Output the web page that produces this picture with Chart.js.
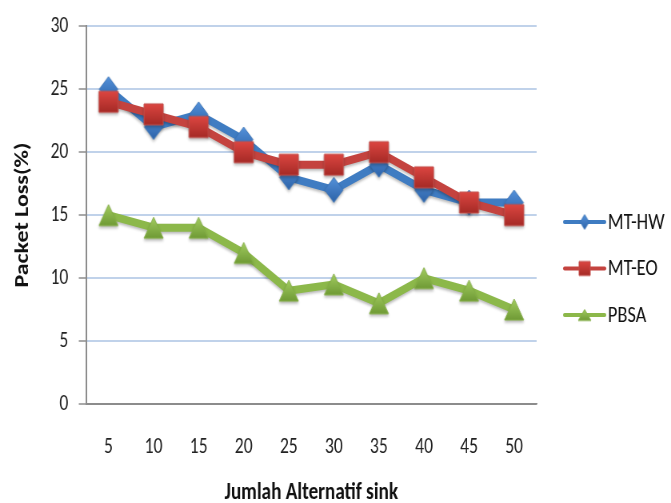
<!DOCTYPE html>
<html>
<head>
<meta charset="utf-8">
<script src="https://cdn.jsdelivr.net/npm/chart.js@4.4.0/dist/chart.umd.min.js"></script>
<style>
  html, body { margin: 0; padding: 0; background: #ffffff; }
  #wrap { width: 671px; height: 503px; overflow: hidden; position: relative; }
  /* the chart is laid out on a wider canvas and narrowed horizontally */
  #inner { width: 839px; height: 503px; transform: scaleX(0.79976); transform-origin: 0 0; }
  #chart { width: 839px; height: 503px; display: block; }
</style>
</head>
<body>
<div id="wrap"><div id="inner"><canvas id="chart" width="839" height="503"></canvas></div></div>
<script>
// Number of alternative sinks (x categories)
const sinkCounts = ['5', '10', '15', '20', '25', '30', '35', '40', '45', '50'];
// Packet loss (%) per method
const mtHw = [25, 22, 23, 21, 18, 17, 19, 17, 16, 16];
const mtEo = [24, 23, 22, 20, 19, 19, 20, 18, 16, 15];
const pbsa = [15, 14, 14, 12, 9, 9.5, 8, 10, 9, 7.5];
const seriesNames = ['MT-HW', 'MT-EO', 'PBSA'];
// Y axis range and step
const yMin = 0, yMax = 30, yStep = 5;

const FONT = 'Carlito, Calibri, "Open Sans", sans-serif';
Chart.defaults.font.family = FONT;
Chart.defaults.color = '#1a1a1a';

// Builds a shaded marker image (diamond, square or triangle)
function makeMarker(shape, w, h, topColor, bottomColor, edgeColor) {
  const pad = 2;
  const cv = document.createElement('canvas');
  cv.width = w + pad * 2;
  cv.height = h + pad * 2;
  const g = cv.getContext('2d');
  g.translate(pad, pad);
  g.beginPath();
  if (shape === 'diamond') {
    g.moveTo(w / 2, 0); g.lineTo(w, h / 2); g.lineTo(w / 2, h); g.lineTo(0, h / 2);
  } else if (shape === 'square') {
    g.rect(0, 0, w, h);
  } else {
    g.moveTo(w / 2, 0); g.lineTo(w, h); g.lineTo(0, h);
  }
  g.closePath();
  const grad = g.createLinearGradient(0, 0, 0, h);
  grad.addColorStop(0, topColor);
  grad.addColorStop(1, bottomColor);
  g.fillStyle = grad;
  g.fill();
  g.strokeStyle = edgeColor;
  g.lineWidth = 1;
  g.stroke();
  return cv;
}

const colors = {
  hw: { line: '#3f7cc2', top: '#5592da', bottom: '#2c62a8', edge: '#3a74b8' },
  eo: { line: '#c4433f', top: '#dc4641', bottom: '#a52a26', edge: '#c4504c' },
  pb: { line: '#8cb84a', top: '#a2cc60', bottom: '#6f9a35', edge: '#86b048' }
};

const markers = [
  makeMarker('diamond', 23, 25, colors.hw.top, colors.hw.bottom, colors.hw.edge),
  makeMarker('square', 24, 21, colors.eo.top, colors.eo.bottom, colors.eo.edge),
  makeMarker('triangle', 24, 21, colors.pb.top, colors.pb.bottom, colors.pb.edge)
];
const legendMarkers = [
  makeMarker('diamond', 11, 15, colors.hw.top, colors.hw.bottom, colors.hw.edge),
  makeMarker('square', 14, 14, colors.eo.top, colors.eo.bottom, colors.eo.edge),
  makeMarker('triangle', 16, 11, colors.pb.top, colors.pb.bottom, colors.pb.edge)
];

// Soft drop shadow under lines and markers
const shadowPlugin = {
  id: 'seriesShadow',
  beforeDatasetsDraw(chart) {
    const c = chart.ctx;
    c.save();
    c.shadowColor = 'rgba(0,0,0,0.28)';
    c.shadowBlur = 3;
    c.shadowOffsetY = 2;
  },
  afterDatasetsDraw(chart) {
    chart.ctx.restore();
  }
};

// Legend on the right: line sample with marker, then the series name
const sideLegend = {
  id: 'sideLegend',
  afterDraw(chart) {
    const c = chart.ctx;
    const x0 = chart.chartArea.right + 35;
    const lineLen = 50;
    const firstY = 222, gap = 46.5;
    c.save();
    chart.data.datasets.forEach((ds, i) => {
      const y = firstY + i * gap;
      c.strokeStyle = ds.borderColor;
      c.lineWidth = 4;
      c.lineCap = 'round';
      c.beginPath();
      c.moveTo(x0, y);
      c.lineTo(x0 + lineLen, y);
      c.stroke();
      const m = legendMarkers[i];
      c.drawImage(m, x0 + lineLen / 2 - m.width / 2, y - m.height / 2);
      c.fillStyle = '#111';
      c.font = '23px ' + FONT;
      c.textAlign = 'left';
      c.textBaseline = 'middle';
      c.fillText(ds.label, x0 + lineLen + 4, y + 1);
    });
    c.restore();
  }
};

const gridBlue = '#c0d2ea';
const axisGrey = '#8c8c8c';

new Chart(document.getElementById('chart'), {
  type: 'line',
  data: {
    labels: sinkCounts,
    datasets: [
      { label: seriesNames[0], data: mtHw, borderColor: colors.hw.line, backgroundColor: colors.hw.line,
        borderWidth: 8, pointStyle: markers[0], order: 2 },
      { label: seriesNames[1], data: mtEo, borderColor: colors.eo.line, backgroundColor: colors.eo.line,
        borderWidth: 8, pointStyle: markers[1], order: 1 },
      { label: seriesNames[2], data: pbsa, borderColor: colors.pb.line, backgroundColor: colors.pb.line,
        borderWidth: 8, pointStyle: markers[2], order: 0 }
    ]
  },
  options: {
    responsive: false,
    animation: false,
    layout: { padding: { left: 0, right: 168, top: 22, bottom: 0 } },
    elements: { line: { tension: 0, borderJoinStyle: 'round' } },
    plugins: { legend: { display: false }, tooltip: { enabled: false } },
    scales: {
      x: {
        offset: true,
        grid: { display: false, drawTicks: false },
        border: { display: true, color: axisGrey, width: 1.5 },
        ticks: { padding: 30, font: { size: 22 }, color: '#222' },
        title: { display: true, text: 'Jumlah Alternatif sink', font: { size: 24, weight: 'bold', lineHeight: 1 },
                 color: '#111', padding: { top: 0, bottom: -2 } },
        afterFit(scale) { scale.height = 99; }
      },
      y: {
        min: yMin, max: yMax,
        ticks: { stepSize: yStep, padding: 13, font: { size: 22 }, color: '#222' },
        grid: {
          color: (ctx) => (ctx.tick && ctx.tick.value === 0 ? axisGrey : gridBlue),
          lineWidth: 2,
          tickColor: axisGrey,
          tickWidth: 1.5,
          tickLength: 9
        },
        border: { display: true, color: axisGrey, width: 2 },
        title: { display: true, text: 'Packet Loss(%)', font: { size: 24, weight: 'bold', lineHeight: 1 },
                 color: '#111', padding: { top: 17, bottom: 0 } },
        afterFit(scale) { scale.width = 107.5; }
      }
    }
  },
  plugins: [shadowPlugin, sideLegend]
});
</script>
</body>
</html>
